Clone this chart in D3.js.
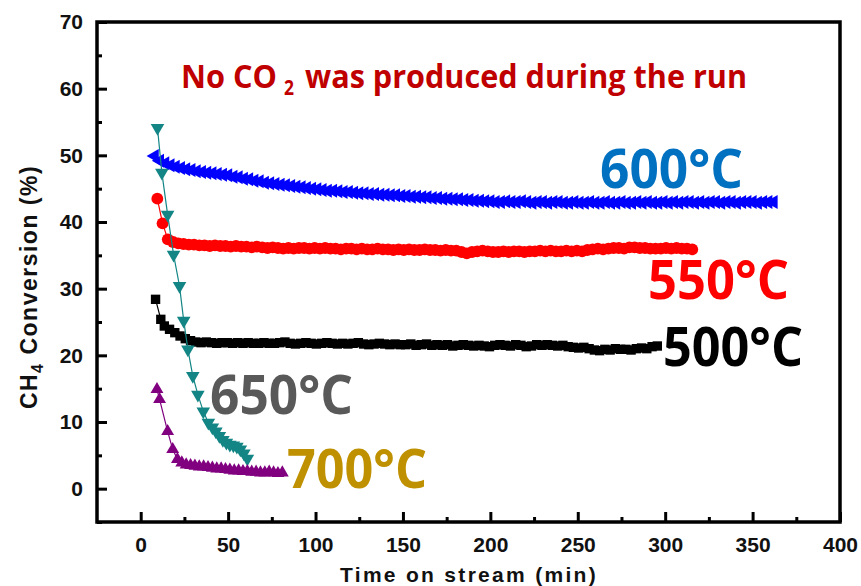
<!DOCTYPE html>
<html>
<head>
<meta charset="utf-8">
<script src="https://cdn.jsdelivr.net/npm/d3@7"></script>
<style>
  body { margin: 0; background: #fff; }
  svg { display: block; }
</style>
</head>
<body>
<svg id="chart" width="861" height="586"></svg>
<script>
// ---- Tick values ----
const xTicks = [0, 50, 100, 150, 200, 250, 300, 350, 400];
const xMinorTicks = [25, 75, 125, 175, 225, 275, 325, 375];
const yTicks = [0, 10, 20, 30, 40, 50, 60, 70];
const yMinorTicks = [-5, 5, 15, 25, 35, 45, 55, 65];

// ---- 500 °C (squares) ----
const t500 = [8.5, 11.5, 13.5, 16.5, 19.5, 22.5, 25.5, 28.5, 31.5, 34.5, 37.5, 40.5, 43.5, 46.5, 49.5, 52.5, 55.5, 58.5, 61.5, 64.5,
  67.5, 70.5, 73.5, 76.5, 79.5, 82.5, 85.5, 88.5, 91.5, 94.5, 97.5, 100.5, 103.5, 106.5, 109.5, 112.5, 115.5, 118.5, 121.5, 124.5,
  127.5, 130.5, 133.5, 136.5, 139.5, 142.5, 145.5, 148.5, 151.5, 154.5, 157.5, 160.5, 163.5, 166.5, 169.5, 172.5, 175.5, 178.5, 181.5, 184.5,
  187.5, 190.5, 193.5, 196.5, 199.5, 202.5, 205.5, 208.5, 211.5, 214.5, 217.5, 220.5, 223.5, 226.5, 229.5, 232.5, 235.5, 238.5, 241.5, 244.5,
  247.5, 250.5, 253.5, 256.5, 259.5, 262.5, 265.5, 268.5, 271.5, 274.5, 277.5, 280.5, 283.5, 286.5, 289.5, 292.5, 295.5];
const v500 = [28.4, 25.4, 24.4, 23.9, 23.4, 22.9, 22.5, 22.2, 22.0, 21.9, 22.0, 21.9, 21.8, 21.9, 21.9, 21.8, 21.9, 21.8, 21.9, 21.8,
  21.8, 21.9, 21.8, 21.8, 21.9, 22.0, 21.8, 21.7, 21.8, 21.9, 21.8, 21.7, 21.8, 21.9, 21.8, 21.7, 21.8, 21.7, 21.8, 21.9,
  21.7, 21.6, 21.7, 21.8, 21.7, 21.6, 21.7, 21.6, 21.6, 21.7, 21.5, 21.6, 21.7, 21.5, 21.6, 21.5, 21.6, 21.4, 21.5, 21.6,
  21.5, 21.4, 21.5, 21.4, 21.3, 21.5, 21.6, 21.5, 21.4, 21.6, 21.5, 21.3, 21.4, 21.6, 21.5, 21.6, 21.5, 21.4, 21.5, 21.3,
  21.2, 21.1, 21.2, 21.0, 20.8, 20.7, 20.9, 20.8, 21.0, 20.9, 20.9, 20.8, 21.0, 21.1, 21.0, 21.3, 21.4];

// ---- 550 °C (circles) ----
const t550 = [9.5, 12.5, 15.5, 18.5, 21.5, 24.5, 27.5, 30.5, 33.5, 36.5, 39.5, 42.5, 45.5, 48.5, 51.5, 54.5, 57.5, 60.5, 63.5, 66.5,
  69.5, 72.5, 75.5, 78.5, 81.5, 84.5, 87.5, 90.5, 93.5, 96.5, 99.5, 102.5, 105.5, 108.5, 111.5, 114.5, 117.5, 120.5, 123.5, 126.5,
  129.5, 132.5, 135.5, 138.5, 141.5, 144.5, 147.5, 150.5, 153.5, 156.5, 159.5, 162.5, 165.5, 168.5, 171.5, 174.5, 177.5, 180.5, 183.5, 186.5,
  189.5, 192.5, 195.5, 198.5, 201.5, 204.5, 207.5, 210.5, 213.5, 216.5, 219.5, 222.5, 225.5, 228.5, 231.5, 234.5, 237.5, 240.5, 243.5, 246.5,
  249.5, 252.5, 255.5, 258.5, 261.5, 264.5, 267.5, 270.5, 273.5, 276.5, 279.5, 282.5, 285.5, 288.5, 291.5, 294.5, 297.5, 300.5, 303.5, 306.5,
  309.5, 312.5, 315.5];
const v550 = [43.5, 39.8, 37.4, 37.0, 36.8, 36.7, 36.6, 36.6, 36.5, 36.5, 36.4, 36.5, 36.4, 36.4, 36.3, 36.4, 36.3, 36.3, 36.2, 36.3,
  36.2, 36.1, 36.2, 36.1, 36.0, 36.1, 36.0, 36.1, 36.1, 36.0, 36.1, 36.0, 36.1, 36.0, 36.0, 35.9, 36.0, 36.0, 35.9, 36.0,
  35.9, 35.9, 36.0, 35.9, 35.9, 35.8, 35.9, 35.8, 35.9, 35.8, 35.8, 35.9, 35.8, 35.8, 35.7, 35.8, 35.7, 35.7, 35.5, 35.3,
  35.5, 35.6, 35.7, 35.6, 35.5, 35.5, 35.6, 35.5, 35.6, 35.6, 35.5, 35.6, 35.6, 35.7, 35.6, 35.7, 35.6, 35.6, 35.7, 35.6,
  35.7, 35.6, 35.8, 35.9, 36.0, 35.9, 36.0, 36.1, 36.1, 36.0, 36.2, 36.2, 36.1, 36.1, 36.0, 36.0, 36.0, 36.1, 36.0, 36.1,
  36.0, 36.0, 35.9];

// ---- 600 °C (left-pointing triangles) ----
const t600 = [8, 11, 14, 17, 20, 23, 26, 29, 32, 35, 38, 41, 44, 47, 50, 53, 56, 59, 62, 65,
  68, 71, 74, 77, 80, 83, 86, 89, 92, 95, 98, 101, 104, 107, 110, 113, 116, 119, 122, 125,
  128, 131, 134, 137, 140, 143, 146, 149, 152, 155, 158, 161, 164, 167, 170, 173, 176, 179, 182, 185,
  188, 191, 194, 197, 200, 203, 206, 209, 212, 215, 218, 221, 224, 227, 230, 233, 236, 239, 242, 245,
  248, 251, 254, 257, 260, 263, 266, 269, 272, 275, 278, 281, 284, 287, 290, 293, 296, 299, 302, 305,
  308, 311, 314, 317, 320, 323, 326, 329, 332, 335, 338, 341, 344, 347, 350, 353, 356, 359, 362];
const v600 = [49.9, 49.2, 48.8, 48.5, 48.3, 48.1, 47.9, 47.8, 47.6, 47.5, 47.4, 47.3, 47.2, 47.1, 47.0, 46.8, 46.7, 46.5, 46.4, 46.2,
  46.1, 45.9, 45.8, 45.7, 45.6, 45.5, 45.4, 45.3, 45.2, 45.1, 45.0, 44.9, 44.8, 44.7, 44.7, 44.6, 44.5, 44.5, 44.4, 44.3,
  44.3, 44.2, 44.2, 44.1, 44.1, 44.0, 44.0, 43.9, 43.9, 43.8, 43.8, 43.7, 43.7, 43.6, 43.6, 43.5, 43.5, 43.4, 43.4, 43.3,
  43.3, 43.2, 43.2, 43.1, 43.1, 43.0, 43.0, 43.1, 43.0, 43.0, 43.1, 43.0, 42.9, 43.0, 43.0, 42.9, 43.0, 43.0, 42.9, 42.9,
  43.0, 42.9, 42.9, 43.0, 42.9, 42.9, 43.0, 42.9, 42.9, 43.0, 42.9, 42.9, 43.0, 42.9, 43.0, 42.9, 42.9, 43.0, 42.9, 43.0,
  42.9, 43.0, 43.0, 42.9, 43.0, 42.9, 43.0, 43.0, 42.9, 43.0, 43.0, 42.9, 43.0, 43.0, 43.0, 42.9, 43.0, 43.0, 43.0];

// ---- 650 °C (down-pointing triangles) ----
const t650 = [9.6, 12.1, 15.4, 18.8, 22.2, 24.6, 27.0, 29.8, 32.7, 35.8, 38.7, 41, 43, 45, 47, 49, 51, 53, 55, 57, 59, 61];
const v650 = [54.1, 47.4, 41.1, 35.1, 30.4, 25.2, 20.9, 16.9, 14.1, 11.6, 9.9, 9.2, 8.6, 7.9, 7.3, 6.9, 6.6, 6.5, 6.3, 5.9, 5.3, 4.5];

// ---- 700 °C (up-pointing triangles) ----
const t700 = [9.3, 10.8, 15.4, 18.3, 21, 23.5, 26, 28.5, 31, 33.5, 36, 38.5, 41, 43.5, 46, 48.5, 51, 53.5, 56, 58.5,
  61, 63.5, 66, 68.5, 71, 73.5, 76, 78.5, 81];
const v700 = [14.9, 13.4, 8.6, 5.9, 4.4, 3.9, 3.6, 3.5, 3.4, 3.3, 3.3, 3.2, 3.1, 3.0, 3.0, 2.9, 2.8, 2.7, 2.7, 2.6,
  2.6, 2.5, 2.5, 2.4, 2.4, 2.5, 2.4, 2.3, 2.4];

const svg = d3.select("#chart");
const x = d3.scaleLinear().domain([-25, 400]).range([97, 840]);
const y = d3.scaleLinear().domain([-5, 70]).range([522, 22]);

const tickFont = "'Liberation Sans', Arial, sans-serif";

// ---- Axes (ticks point inward) ----
const xAxis = svg.append("g").attr("transform", `translate(0,${y(-5)})`)
  .call(d3.axisBottom(x).tickValues(xTicks).tickSize(-10).tickPadding(15).tickFormat(d3.format("d")));
const xMinor = svg.append("g").attr("transform", `translate(0,${y(-5)})`)
  .call(d3.axisBottom(x).tickValues(xMinorTicks).tickSize(-5).tickFormat(""));
const yAxis = svg.append("g").attr("transform", `translate(${x(-25)},0)`)
  .call(d3.axisLeft(y).tickValues(yTicks).tickSize(-10).tickPadding(14).tickFormat(d3.format("d")));
const yMinor = svg.append("g").attr("transform", `translate(${x(-25)},0)`)
  .call(d3.axisLeft(y).tickValues(yMinorTicks).tickSize(-5).tickFormat(""));

[xAxis, xMinor, yAxis, yMinor].forEach(g => {
  g.select(".domain").remove();
  g.selectAll(".tick line").attr("stroke", "#000").attr("stroke-width", 3);
  g.selectAll(".tick text")
    .attr("font-family", tickFont).attr("font-weight", "bold")
    .attr("font-size", 21).attr("fill", "#111");
});

// ---- Plot frame ----
svg.append("rect")
  .attr("x", x(-25)).attr("y", y(70))
  .attr("width", x(400) - x(-25)).attr("height", y(-5) - y(70))
  .attr("fill", "none").attr("stroke", "#000").attr("stroke-width", 3.5);

// ---- Series ----
const series = [
  { t: t500, v: v500, color: "#000000", shape: d3.symbolSquare, size: 88, rot: 0 },
  { t: t550, v: v550, color: "#ff0000", shape: d3.symbolCircle, size: 110, rot: 0 },
  { t: t600, v: v600, color: "#0000ff", shape: d3.symbolTriangle, size: 85, rot: -90 },
  { t: t650, v: v650, color: "#138585", shape: d3.symbolTriangle, size: 80, rot: 180 },
  { t: t700, v: v700, color: "#800080", shape: d3.symbolTriangle, size: 72, rot: 0 }
];

const line = d3.line().x(d => x(d[0])).y(d => y(d[1]));

series.forEach(s => {
  const pts = s.t.map((t, i) => [t, s.v[i]]);
  const g = svg.append("g");
  g.append("path").datum(pts)
    .attr("d", line).attr("fill", "none")
    .attr("stroke", s.color).attr("stroke-width", 1.2);
  g.selectAll("path.m").data(pts).join("path")
    .attr("class", "m")
    .attr("d", d3.symbol().type(s.shape).size(s.size))
    .attr("transform", d => `translate(${x(d[0])},${y(d[1])}) rotate(${s.rot})`)
    .attr("fill", s.color);
});

// ---- Axis titles ----
svg.append("text")
  .attr("x", 469).attr("y", 582)
  .attr("text-anchor", "middle")
  .attr("font-family", tickFont).attr("font-weight", "bold")
  .attr("font-size", 21).attr("letter-spacing", 2.3).attr("fill", "#111")
  .text("Time on stream (min)");

const yTitle = svg.append("text")
  .attr("transform", "translate(37,287) rotate(-90)")
  .attr("text-anchor", "middle")
  .attr("font-family", tickFont).attr("font-weight", "bold")
  .attr("font-size", 23).attr("letter-spacing", 1.5).attr("fill", "#111");
yTitle.append("tspan").text("CH");
yTitle.append("tspan").attr("font-size", 16).attr("dy", 6).text("4");
yTitle.append("tspan").attr("dy", -6).text(" Conversion (%)");

// ---- Annotations ----
const annFont = "'Open Sans', 'Noto Sans', sans-serif";
const noteParts = [
  { text: "No CO", x0: 181, x1: 277, base: 88, size: 33 },
  { text: "2", x0: 284, x1: 294, base: 95, size: 22 },
  { text: "was produced during the run", x0: 305, x1: 747, base: 88, size: 33 }
];
svg.selectAll("text.note").data(noteParts).join("text")
  .attr("class", "note")
  .attr("x", d => d.x0).attr("y", d => d.base)
  .attr("font-family", annFont).attr("font-weight", "bold")
  .attr("font-size", d => d.size).attr("fill", "#c00000")
  .attr("textLength", d => d.x1 - d.x0).attr("lengthAdjust", "spacingAndGlyphs")
  .text(d => d.text);

const tempLabels = [
  { text: "600°C", color: "#0070c0", x0: 600, x1: 743, t: 188 },
  { text: "550°C", color: "#ff0000", x0: 648, x1: 789, t: 299 },
  { text: "500°C", color: "#000000", x0: 663, x1: 803, t: 366 },
  { text: "650°C", color: "#595959", x0: 210, x1: 353, t: 414 },
  { text: "700°C", color: "#bf9000", x0: 287, x1: 427, t: 488 }
];
svg.selectAll("text.temp").data(tempLabels).join("text")
  .attr("class", "temp")
  .attr("x", d => d.x0).attr("y", d => d.t)
  .attr("font-family", annFont).attr("font-weight", "bold")
  .attr("font-size", 54).attr("fill", d => d.color)
  .attr("textLength", d => d.x1 - d.x0).attr("lengthAdjust", "spacingAndGlyphs")
  .text(d => d.text);
</script>
</body>
</html>
